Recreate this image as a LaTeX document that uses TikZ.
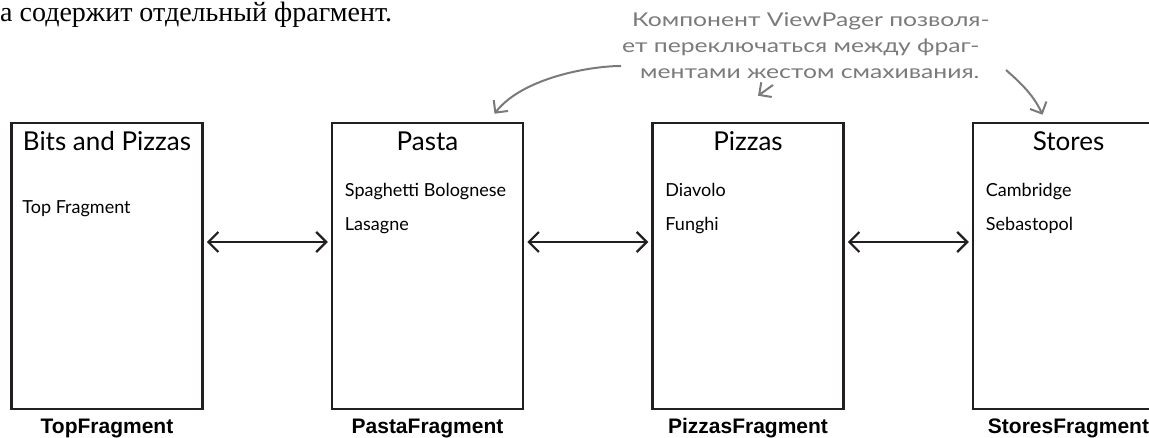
\documentclass[tikz,border=0pt]{standalone}
\usepackage{fontspec}
\setmainfont{Liberation Serif}
\newfontfamily\handfont{Lato}
\newfontfamily\notefont[FakeStretch=1.3]{Lato}
\newfontfamily\labelfont{Liberation Sans}
\usetikzlibrary{arrows.meta, positioning}

\definecolor{inkgray}{HTML}{7A7A7A}
\definecolor{inkblack}{HTML}{231F20}

\begin{document}
\begin{tikzpicture}[
        x=1pt, y=-1pt,
        node distance=127pt,
        screen/.style={rectangle, draw=inkblack, line width=2.5pt, minimum width=191pt, minimum height=286pt, inner sep=0pt},
        title/.style={font=\handfont\fontsize{26pt}{30pt}\selectfont, anchor=base, inner sep=0pt},
        item/.style={font=\handfont\fontsize{18pt}{22pt}\selectfont, anchor=base west, inner sep=0pt},
        caption/.style={font=\labelfont\bfseries\fontsize{21pt}{25pt}\selectfont, anchor=base, inner sep=0pt},
        note/.style={font=\notefont\fontsize{19pt}{26pt}\selectfont, color=inkgray, align=left, inner sep=0pt},
        swipe/.style={{Straight Barb[length=10pt,width=20pt]}-{Straight Barb[length=10pt,width=20pt]}, line width=2.2pt, color=inkblack, shorten <=3pt, shorten >=3pt},
        pointer/.style={-{Straight Barb[length=9pt,width=18pt]}, line width=2pt, color=inkgray}
    ]
    \clip (0,0) rectangle (1149,438);

    % Intro line
    \node[font=\fontsize{28pt}{32pt}\selectfont, anchor=base west, inner sep=0pt] (intro) at (0,22) {а содержит отдельный фрагмент.};

    % Screens
    \node[screen] (top) at (107,266) {};
    \node[screen, right=of top] (pasta) {};
    \node[screen, right=of pasta] (pizzas) {};
    \node[screen, right=of pizzas] (stores) {};

    % Titles
    \node[title] (toptitle) at ([yshift=-29pt]top.north) {Bits and Pizzas};
    \node[title] (pastatitle) at ([yshift=-29pt]pasta.north) {Pasta};
    \node[title] (pizzastitle) at ([yshift=-29pt]pizzas.north) {Pizzas};
    \node[title] (storestitle) at ([yshift=-29pt]stores.north) {Stores};

    % Items
    \node[item] (topone) at ([xshift=12pt,yshift=-92pt]top.north west) {Top Fragment};
    \node[item] (pastaone) at ([xshift=14pt,yshift=-75pt]pasta.north west) {Spaghetti Bolognese};
    \node[item] (pastatwo) at ([xshift=14pt,yshift=-109pt]pasta.north west) {Lasagne};
    \node[item] (pizzasone) at ([xshift=14pt,yshift=-75pt]pizzas.north west) {Diavolo};
    \node[item] (pizzastwo) at ([xshift=14pt,yshift=-109pt]pizzas.north west) {Funghi};
    \node[item] (storesone) at ([xshift=14pt,yshift=-75pt]stores.north west) {Cambridge};
    \node[item] (storestwo) at ([xshift=14pt,yshift=-109pt]stores.north west) {Sebastopol};

    % Captions
    \node[caption] (topcap) at ([yshift=-23pt]top.south) {TopFragment};
    \node[caption] (pastacap) at ([yshift=-23pt]pasta.south) {PastaFragment};
    \node[caption] (pizzascap) at ([yshift=-23pt]pizzas.south) {PizzasFragment};
    \node[caption] (storescap) at ([yshift=-23pt]stores.south) {StoresFragment};

    % Swipe arrows
    \draw[swipe] ([yshift=24pt]top.east) -- ([yshift=24pt]pasta.west);
    \draw[swipe] ([yshift=24pt]pasta.east) -- ([yshift=24pt]pizzas.west);
    \draw[swipe] ([yshift=24pt]pizzas.east) -- ([yshift=24pt]stores.west);

    % Note
    \node[note, anchor=north west] (note) at (622,12) {\hspace*{10pt}Компонент ViewPager позволя-\\ет переключаться между фраг-\\\hspace*{18pt}ментами жестом смахивания.};
    \coordinate (tailpasta) at (621,66);
    \coordinate (tailpizzas) at (773,85);
    \coordinate (tailstores) at (1006,70);

    \draw[pointer] (tailpasta) .. controls (590,66) and (522,78) .. ([xshift=67pt,yshift=8pt]pasta.north);
    \draw[pointer] (tailpizzas) -- ([xshift=10pt,yshift=26pt]pizzas.north);
    \draw[pointer] (tailstores) .. controls (1022,84) and (1034,96) .. ([xshift=-26pt,yshift=7pt]stores.north);

\end{tikzpicture}
\end{document}
